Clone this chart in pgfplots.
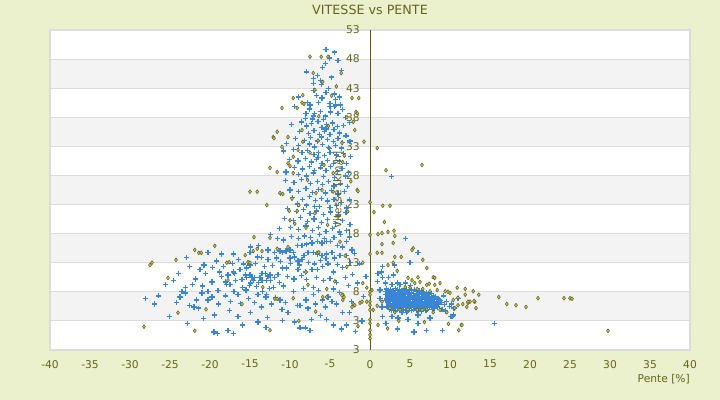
\documentclass[border=0pt]{standalone}
\usepackage{fontspec}
\setmainfont{DejaVu Sans}
\usepackage{pgfplots}
\pgfplotsset{compat=1.18}
\pgfplotsset{layers/mylayers/.define layer set={axis background,axis grid,axis ticks,axis lines,main,axis tick labels,axis descriptions,axis foreground}{}}
\definecolor{bg}{HTML}{EBF0CD}
\definecolor{band}{HTML}{F3F3F3}
\definecolor{gridc}{HTML}{DCDCDC}
\definecolor{txt}{HTML}{646420}
\definecolor{axc}{HTML}{5A5A00}
\definecolor{blu}{HTML}{3A86D6}
\definecolor{olv}{HTML}{62621A}
\definecolor{olvf}{HTML}{D6D67A}
\pgfplotstableread[row sep=\\]{
x y\\
-5.5 49.6\\-4.4 49.2\\-5.6 47.3\\-5.1 48.2\\-4.0 47.7\\-7.9 45.8\\-7.1 44.6\\-6.6 45.2\\-5.9 46.5\\-4.8 44.9\\-3.6 46.1\\-6.2 44.3\\
-7.1 43.8\\-6.1 43.6\\-7.0 42.6\\-5.5 42.2\\-4.4 42.0\\-3.8 41.5\\-4.3 41.0\\-5.0 40.4\\-7.8 40.6\\-7.5 40.1\\-6.4 40.6\\-5.0 39.9\\-4.4 39.9\\-4.3 40.1\\-3.7 40.1\\-6.2 39.0\\-7.6 39.4\\-8.0 38.7\\-6.9 38.6\\-5.6 38.2\\-4.0 38.6\\-3.4 39.3\\-3.1 37.9\\-8.1 37.8\\-7.1 38.2\\-6.0 41.3\\-5.2 43.0\\-6.7 41.8\\-8.9 41.5\\-4.9 38.9\\-5.8 37.6\\-9.4 39.9\\
-9.8 36.8\\-8.6 37.2\\-7.9 36.5\\-7.3 36.9\\-6.5 37.3\\-6.0 36.2\\-5.4 36.8\\-4.7 37.0\\-4.1 36.4\\-3.3 36.6\\-2.6 37.1\\-8.8 35.6\\-7.7 35.2\\-7.0 35.7\\-6.3 35.1\\-5.7 35.5\\-5.0 35.0\\-4.5 35.9\\-3.8 35.3\\-3.0 34.8\\-9.3 34.3\\-8.2 34.0\\-7.4 34.5\\-6.6 33.9\\-6.1 34.6\\-5.3 34.2\\-4.6 33.8\\-4.0 34.4\\-3.4 33.6\\-2.5 33.9\\-10.4 33.5\\-8.9 33.2\\-7.6 33.4\\-6.9 32.9\\-5.9 33.3\\-5.2 32.8\\-4.3 33.1\\-3.6 32.7\\-7.2 37.7\\-5.5 36.0\\
-10.8 32.2\\-9.6 32.5\\-8.5 31.9\\-7.8 32.3\\-7.0 31.6\\-6.4 32.0\\-5.7 31.4\\-5.0 31.9\\-4.2 31.5\\-3.3 31.8\\-2.4 31.2\\-10.1 30.8\\-9.0 30.5\\-8.1 30.9\\-7.3 30.3\\-6.7 30.7\\-6.0 30.1\\-5.3 30.6\\-4.6 30.0\\-3.8 30.4\\-2.9 30.1\\-9.4 29.4\\-8.4 29.1\\-7.6 29.6\\-6.9 28.9\\-6.2 29.3\\-5.5 28.8\\-4.9 29.5\\-4.1 28.7\\-3.5 29.2\\-2.7 28.5\\-10.5 28.6\\-8.9 28.2\\-7.9 27.9\\-7.1 28.4\\-5.8 27.8\\-4.4 27.6\\-3.1 27.9\\-6.5 31.1\\-5.1 32.6\\
-10.6 27.1\\-9.5 26.8\\-8.6 27.3\\-7.4 26.6\\-6.6 27.0\\-5.9 26.4\\-5.2 26.9\\-4.5 26.2\\-3.7 26.6\\-2.8 26.1\\-10.0 25.5\\-8.9 25.2\\-8.0 25.7\\-7.2 25.1\\-6.4 25.6\\-5.6 25.0\\-4.8 25.4\\-4.0 24.8\\-3.2 25.2\\-9.7 24.2\\-8.4 23.9\\-7.6 24.4\\-6.8 23.7\\-6.1 24.1\\-5.3 23.6\\-4.5 23.9\\-3.6 23.4\\-2.6 23.8\\-11.2 24.9\\-9.1 23.1\\-7.9 22.9\\-6.3 22.7\\-5.0 22.5\\-4.2 22.8\\-2.9 22.4\\
-10.3 22.3\\-9.2 21.8\\-8.3 22.1\\-7.5 21.5\\-6.7 21.9\\-5.8 21.3\\-4.9 21.7\\-3.9 21.2\\-3.0 21.6\\-10.7 20.6\\-9.6 20.3\\-8.7 20.8\\-7.8 20.1\\-7.0 20.5\\-6.1 19.9\\-5.3 20.4\\-4.3 19.8\\-3.4 20.2\\-2.5 19.6\\-9.9 19.1\\-8.9 18.7\\-8.0 19.3\\-7.2 18.5\\-6.4 19.0\\-5.5 18.4\\-4.7 18.9\\-3.8 18.3\\-2.9 18.6\\-11.3 18.9\\-6.9 22.6\\
-11.9 14.8\\-11.25 15.0\\-10.9 14.8\\-10.5 15.0\\-10.0 15.2\\-9.6 14.8\\-9.1 16.0\\-8.5 16.0\\-7.9 16.2\\-7.25 16.4\\-6.6 16.6\\-6.0 16.4\\-5.4 16.6\\-4.9 16.6\\-4.1 16.0\\-3.4 15.7\\-2.9 16.6\\-2.25 15.2\\-10.0 13.8\\-9.4 14.0\\-9.0 13.3\\-8.5 13.6\\-8.25 14.3\\-7.75 14.7\\-7.1 14.8\\-6.6 14.5\\-6.0 14.3\\-5.4 14.5\\-4.75 14.7\\-4.4 13.8\\-3.75 14.3\\-2.9 14.2\\-10.4 12.1\\-10.9 12.1\\-9.0 11.8\\-8.1 11.4\\-7.25 11.8\\-6.6 11.9\\-5.9 12.3\\-5.25 12.8\\-4.6 11.4\\-3.1 10.4\\-7.1 8.8\\-9.6 8.0\\-9.1 5.7\\-8.75 5.7\\-7.75 5.2\\-7.1 7.5\\-5.9 6.6\\-5.25 7.1\\-4.75 6.4\\-3.4 4.4\\-2.9 2.3\\-9.4 2.8\\-8.75 1.8\\-8.1 1.8\\-7.5 1.3\\-5.4 3.2\\-4.6 2.3\\-10.25 4.4\\-11.25 6.6\\-12.1 8.8\\-13.5 10.0\\-13.75 10.5\\-13.1 11.2\\-12.75 10.7\\-12.5 10.9\\-12.9 10.0\\-12.4 9.9\\-14.0 7.6\\-13.4 8.0\\-13.0 7.1\\-12.9 7.5\\-15.6 10.9\\-15.4 10.5\\-15.0 10.9\\-14.75 10.4\\-14.4 10.5\\-14.9 9.5\\-14.6 10.0\\-13.5 11.2\\-14.9 15.7\\-13.9 16.0\\-12.75 15.2\\-12.4 17.8\\-12.75 13.5\\-15.0 14.7\\-14.1 14.0\\-15.0 12.6\\-15.4 12.1\\-16.25 11.8\\-17.1 11.4\\-16.9 11.2\\-17.75 10.9\\-18.1 9.7\\-17.9 9.2\\-17.5 9.2\\-17.1 8.1\\-16.9 8.1\\-16.5 7.6\\-15.9 8.8\\-15.5 8.3\\-14.9 4.5\\-16.5 3.7\\-15.9 2.3\\-19.5 1.1\\-19.1 0.9\\-17.75 1.3\\-17.1 0.9\\-18.1 7.3\\-16.6 7.5\\-20.25 14.7\\-18.6 14.5\\-17.1 14.5\\-22.6 12.3\\-21.25 11.9\\-20.75 12.6\\-20.6 11.1\\-19.75 9.7\\-20.25 8.1\\-21.0 7.8\\-20.25 6.6\\-19.75 7.1\\-22.6 5.7\\-22.0 5.4\\-21.4 5.2\\-23.5 8.0\\-23.1 7.8\\-23.75 7.1\\-28.1 6.9\\-26.4 7.3\\-23.1 8.8\\-25.1 3.7\\-25.6 9.2\\
-11.6 17.2\\-10.8 16.9\\-9.8 17.5\\-8.9 17.1\\-8.2 17.6\\-7.4 17.3\\-6.3 17.8\\-5.7 17.1\\-4.5 17.4\\-3.7 17.9\\-2.6 17.3\\-11.2 13.2\\-9.9 12.9\\-8.8 12.6\\-7.7 13.1\\-6.9 12.8\\-6.2 13.4\\-5.5 13.7\\-4.1 12.7\\-3.4 12.2\\-2.4 13.0\\-11.5 11.0\\-10.3 10.6\\-9.5 10.2\\-8.6 10.8\\-7.9 10.1\\-6.7 10.5\\-5.8 9.9\\-5.0 10.3\\-4.2 9.6\\-2.7 9.1\\-10.8 9.0\\-8.3 8.6\\-6.4 8.2\\-4.6 8.5\\-3.8 7.9\\-11.8 7.0\\-10.6 6.2\\-8.0 6.6\\-6.8 5.9\\-5.6 5.4\\-4.2 5.9\\-2.3 6.4\\-1.6 9.5\\-2.2 11.0\\-1.0 3.0\\-2.6 4.4\\-0.8 7.2\\-1.8 1.2\\-0.5 10.6\\-1.3 12.8\\-1.9 14.6\\-6.2 3.9\\-7.3 3.2\\-3.6 1.6\\-10.9 3.1\\
-19.2 13.3\\-18.3 12.4\\-17.2 12.9\\-16.4 13.6\\-15.8 12.8\\-14.3 12.9\\-13.6 13.9\\-13.2 12.3\\-12.2 12.5\\-11.7 13.8\\-16.0 10.1\\-15.1 9.1\\-14.2 8.9\\-13.9 9.6\\-12.6 8.6\\-11.9 10.4\\-11.3 9.6\\-16.8 9.9\\-18.6 10.6\\-19.0 8.2\\-18.8 11.4\\-21.8 10.2\\-22.2 9.3\\-20.9 9.0\\-21.7 6.6\\-24.2 6.2\\-24.6 9.9\\-26.9 5.9\\-23.9 11.2\\-22.9 13.9\\-19.7 12.2\\-18.9 5.9\\-17.4 6.4\\-16.2 6.0\\-15.2 6.9\\-14.4 6.2\\-13.6 5.4\\-12.3 5.9\\-11.0 4.9\\-14.0 2.8\\-12.8 3.6\\-13.0 1.9\\-17.6 4.8\\-19.4 4.0\\-20.8 3.4\\-22.8 2.6\\
2.1 8.5\\2.6 8.3\\3.2 8.6\\3.7 8.4\\4.3 8.5\\4.9 8.3\\5.6 8.4\\6.2 8.2\\
1.9 8.0\\2.4 7.9\\2.9 8.1\\3.5 7.9\\4.0 8.0\\4.6 8.1\\5.2 7.9\\5.8 8.0\\6.5 7.9\\7.1 7.8\\
2.0 7.5\\2.5 7.4\\3.0 7.6\\3.4 7.5\\3.9 7.4\\4.4 7.6\\4.9 7.5\\5.4 7.4\\5.9 7.6\\6.4 7.5\\6.9 7.4\\7.4 7.5\\7.9 7.4\\
2.2 7.0\\2.7 7.1\\3.1 6.9\\3.6 7.0\\4.1 7.1\\4.6 6.9\\5.1 7.0\\5.6 7.1\\6.1 6.9\\6.6 7.0\\7.1 7.1\\7.6 6.9\\8.1 7.0\\8.5 6.9\\
2.0 6.5\\2.5 6.4\\2.9 6.6\\3.4 6.5\\3.8 6.4\\4.3 6.6\\4.8 6.5\\5.3 6.4\\5.8 6.6\\6.3 6.5\\6.8 6.4\\7.3 6.6\\7.8 6.5\\8.3 6.4\\8.8 6.5\\
2.3 6.0\\2.8 5.9\\3.2 6.1\\3.7 6.0\\4.2 5.9\\4.7 6.1\\5.2 6.0\\5.7 5.9\\6.2 6.1\\6.7 6.0\\7.2 5.9\\7.7 6.1\\8.2 6.0\\8.6 5.9\\
2.1 5.5\\2.6 5.4\\3.0 5.6\\3.5 5.5\\4.0 5.4\\4.5 5.6\\5.0 5.5\\5.5 5.4\\6.0 5.6\\6.5 5.5\\7.0 5.4\\7.5 5.6\\8.0 5.5\\8.4 5.4\\
2.4 5.0\\2.9 4.9\\3.4 5.1\\3.9 5.0\\4.4 4.9\\4.9 5.1\\5.4 5.0\\6.0 4.9\\6.6 5.1\\7.2 5.0\\7.8 4.9\\
2.35 8.25\\2.85 8.2\\3.45 8.3\\3.95 8.2\\4.55 8.25\\5.15 8.3\\5.85 8.2\\6.45 8.15\\
2.15 7.75\\2.65 7.7\\3.2 7.8\\3.75 7.75\\4.25 7.7\\4.85 7.8\\5.45 7.75\\6.1 7.7\\6.75 7.75\\7.3 7.65\\7.7 7.7\\
2.25 7.25\\2.75 7.3\\3.25 7.2\\3.7 7.25\\4.2 7.3\\4.7 7.2\\5.2 7.25\\5.7 7.3\\6.2 7.2\\6.7 7.25\\7.2 7.3\\7.7 7.2\\8.2 7.25\\
2.1 6.75\\2.45 6.8\\2.95 6.7\\3.4 6.75\\3.9 6.8\\4.4 6.7\\4.9 6.75\\5.4 6.8\\5.9 6.7\\6.4 6.75\\6.9 6.8\\7.4 6.7\\7.9 6.75\\8.35 6.8\\8.7 6.7\\
2.2 6.25\\2.6 6.3\\3.05 6.2\\3.5 6.25\\4.0 6.3\\4.5 6.2\\5.0 6.25\\5.5 6.3\\6.0 6.2\\6.5 6.25\\7.0 6.3\\7.5 6.2\\8.0 6.25\\8.45 6.3\\8.9 6.2\\
2.35 5.75\\2.8 5.8\\3.3 5.7\\3.8 5.75\\4.3 5.8\\4.8 5.7\\5.3 5.75\\5.8 5.8\\6.3 5.7\\6.8 5.75\\7.3 5.8\\7.8 5.7\\8.25 5.75\\
2.25 5.25\\2.75 5.3\\3.2 5.2\\3.7 5.25\\4.2 5.3\\4.7 5.2\\5.2 5.25\\5.7 5.3\\6.2 5.2\\6.8 5.25\\7.4 5.3\\8.0 5.2\\
2.7 4.75\\3.2 4.7\\3.7 4.8\\4.2 4.75\\4.7 4.7\\5.2 4.8\\5.8 4.75\\6.4 4.7\\7.0 4.8\\
1.0 11.2\\1.4 11.4\\1.6 10.5\\1.9 9.5\\2.3 10.4\\2.75 9.2\\1.6 12.3\\3.4 9.5\\3.75 9.2\\4.4 9.5\\1.25 8.3\\1.25 6.9\\1.5 5.4\\0.9 9.8\\2.9 10.9\\5.1 9.1\\
8.9 6.2\\9.3 5.8\\9.6 6.4\\9.9 5.5\\10.2 5.9\\10.5 5.2\\11.0 6.9\\10.1 3.8\\10.4 4.0\\9.0 5.0\\9.4 4.7\\9.2 7.3\\
3.4 1.6\\5.4 1.1\\7.1 1.3\\9.1 1.3\\4.75 3.3\\3.5 3.5\\2.75 3.7\\1.6 3.8\\7.5 3.5\\10.25 3.7\\6.0 4.0\\15.6 2.5\\6.0 2.5\\2.0 2.6\\4.0 4.4\\4.1 4.4\\4.6 4.4\\5.6 1.1\\
4.4 17.1\\6.0 14.8\\5.0 13.0\\2.7 27.8\\3.1 12.6\\
}\blue
\pgfplotstableread[row sep=\\]{
x y\\
-7.5 48.4\\-5.25 48.4\\-6.1 48.4\\-3.6 45.6\\-7.1 45.6\\-5.9 44.1\\-6.9 42.7\\-2.25 41.3\\-1.4 41.3\\-1.75 38.9\\-1.9 35.8\\-8.4 41.8\\-8.5 35.8\\-9.6 41.3\\-11.0 39.6\\-9.1 39.6\\-8.5 40.5\\-8.25 40.3\\-2.9 38.0\\-1.6 38.7\\-2.1 37.2\\-12.1 34.6\\-12.0 34.4\\-11.6 35.5\\-10.25 34.6\\-8.4 33.8\\-11.0 32.9\\-3.5 33.6\\-0.75 33.8\\-9.0 32.4\\-9.6 31.2\\-10.25 30.1\\-10.0 29.6\\-12.5 29.3\\-11.6 28.6\\-9.6 28.4\\-7.5 31.9\\-5.75 29.8\\-4.6 28.4\\-3.4 30.3\\-11.25 25.0\\-10.9 24.8\\-9.75 24.0\\-12.9 22.9\\-8.9 22.9\\-6.75 25.0\\-6.0 25.5\\-4.6 25.2\\-1.6 25.5\\-1.5 25.3\\-9.1 21.9\\-10.1 21.9\\-10.0 20.3\\-6.9 21.5\\-4.0 20.9\\-12.5 17.3\\-10.25 15.7\\-3.75 16.6\\-15.0 25.2\\-14.1 25.2\\-5.2 36.5\\-6.5 34.0\\-4.2 43.3\\-4.8 41.7\\-6.4 38.2\\-3.2 31.4\\-7.8 27.2\\-2.4 27.0\\-5.3 19.5\\-8.0 19.0\\-2.8 21.8\\
-21.9 15.2\\-21.4 14.7\\-24.25 13.5\\-27.25 13.0\\-27.5 12.6\\-25.25 10.4\\-28.25 2.0\\-21.9 1.3\\-21.1 14.7\\-19.4 15.9\\-14.5 17.4\\-17.9 13.0\\-17.6 13.1\\-15.6 14.3\\-15.25 13.1\\-15.0 13.0\\-14.6 15.0\\-14.1 15.4\\-13.5 15.0\\-17.75 10.0\\-13.4 8.8\\-11.9 6.8\\-11.6 6.8\\-12.5 1.4\\-11.6 15.4\\-9.6 6.9\\-7.75 9.2\\-8.0 11.4\\-6.6 14.7\\-6.4 14.8\\-9.4 19.7\\-5.4 8.5\\-5.9 7.1\\-5.4 7.1\\-3.4 7.5\\-3.4 6.6\\-2.1 5.9\\-2.25 5.4\\-3.1 14.2\\-2.9 12.3\\-3.5 7.4\\-3.25 7.1\\-1.25 6.1\\-1.0 6.3\\-0.4 6.3\\-1.9 5.7\\-0.9 9.5\\-0.4 8.7\\-0.9 13.0\\-4.4 9.8\\-6.8 4.6\\-8.9 3.0\\-1.5 2.1\\-20.5 5.0\\-24.0 4.4\\-16.0 5.9\\
0 8.0\\0 7.5\\0 6.3\\0 5.7\\0 4.9\\0 3.2\\0 2.6\\0 1.4\\0 0.6\\0 23.4\\0 17.8\\0 14.5\\0 0.0\\
1.0 17.9\\1.5 18.1\\2.25 18.3\\3.1 17.6\\1.5 16.2\\2.9 16.4\\5.4 15.5\\5.25 15.2\\0.9 14.7\\1.5 14.7\\3.1 14.0\\3.9 14.0\\6.6 13.5\\2.25 12.6\\2.9 13.0\\3.4 11.6\\6.0 10.5\\7.1 12.1\\7.9 10.5\\8.1 10.4\\4.75 10.4\\5.25 10.0\\5.6 9.5\\6.25 9.7\\7.1 9.2\\7.4 9.4\\8.1 9.2\\8.75 9.5\\10.9 8.7\\11.9 8.5\\12.9 8.1\\11.9 7.5\\12.5 6.3\\13.1 6.3\\11.4 2.3\\11.1 1.4\\1.0 2.3\\0.25 8.3\\1.5 6.3\\0.9 5.6\\0.4 4.9\\2.5 5.2\\3.1 4.5\\3.75 4.9\\4.75 5.0\\5.9 4.9\\6.5 4.9\\7.1 5.0\\7.9 4.5\\8.75 4.9\\9.6 4.5\\10.6 5.2\\10.4 6.6\\11.0 7.0\\4.4 8.8\\5.0 8.7\\5.9 8.5\\6.6 8.5\\7.5 8.1\\8.4 8.3\\9.4 8.1\\9.75 8.0\\10.0 7.8\\11.0 5.7\\11.6 5.9\\12.25 6.1\\13.0 6.4\\13.6 7.5\\16.1 7.1\\17.1 5.9\\18.25 5.7\\19.5 5.4\\21.0 6.9\\24.25 6.9\\25.0 6.9\\25.25 6.8\\29.75 1.3\\11.5 2.3\\12.25 6.3\\13.25 5.2\\12.1 5.4\\0.9 32.7\\6.5 29.8\\2.0 28.9\\3.6 3.0\\2.2 1.7\\6.8 2.8\\9.8 2.5\\1.8 20.0\\0.5 21.7\\1.6 22.8\\2.5 22.8\\3.0 18.5\\
}\olive
\begin{document}
\begin{tikzpicture}[x=1bp,y=1bp]
\begin{axis}[
  set layers=mylayers,
  at={(50bp,50bp)}, anchor=south west,
  scale only axis, width=640bp, height=320bp,
  xmin=-40, xmax=40, ymin=-2, ymax=53,
  axis x line=bottom, axis y line=center,
  hide obscured y ticks=false, hide obscured x ticks=false,
  x axis line style={draw=gridc, line width=1.5bp, -},
  y axis line style={draw=axc, line width=1bp, -},
  major tick length=0pt,
  xtick={-40,-35,...,40},
  xticklabels={-40,-35,-30,-25,-20,-15,-10,-5,0,5,10,15,20,25,30,35,40},
  ytick={-2,3,8,13,18,23,28,33,38,43,48,53},
  yticklabels={3,3,8,13,18,23,28,33,38,43,48,53},
  ymajorgrids, grid style={draw=gridc, line width=1bp},
  font=\fontsize{10.7bp}{12bp}\selectfont,
  tick label style={text=txt},
  xticklabel style={anchor=north, inner sep=0pt, yshift=-10bp},
  yticklabel style={anchor=east, inner sep=0pt, xshift=-10bp},
  xlabel={Pente [\%]},
  xlabel style={at={(rel axis cs:1,0)}, anchor=north east, inner sep=0pt, yshift=-24bp, text=txt},
  ylabel={Vitesse [km/h]},
  ylabel style={at={(rel axis cs:0.45,0.5)}, anchor=center, rotate=90, inner sep=0pt, text=txt},
  title={VITESSE vs PENTE},
  title style={at={(rel axis cs:0.5,1)}, anchor=center, yshift=14bp, inner sep=0pt, text=txt, font=\fontsize{12.7bp}{14bp}\selectfont},
  clip=false,
]
\begin{pgfonlayer}{axis background}
\fill[bg] ([shift={(-50bp,-50bp)}]rel axis cs:0,0) rectangle ([shift={(30bp,30bp)}]rel axis cs:1,1);
\fill[white] (rel axis cs:0,0) rectangle (rel axis cs:1,1);
\fill[band] (axis cs:-40,3) rectangle (axis cs:40,8);
\fill[band] (axis cs:-40,13) rectangle (axis cs:40,18);
\fill[band] (axis cs:-40,23) rectangle (axis cs:40,28);
\fill[band] (axis cs:-40,33) rectangle (axis cs:40,38);
\fill[band] (axis cs:-40,43) rectangle (axis cs:40,48);
\draw[gridc, line width=1.5bp] (rel axis cs:0,0) rectangle (rel axis cs:1,1);
\end{pgfonlayer}
\addplot[only marks, mark=+, mark size=2.6bp, blu, line width=1.25bp] table[x=x,y=y] {\blue};
\addplot[only marks, mark=diamond*, mark size=1.9bp, mark options={draw=olv, fill=olvf, line width=0.6bp}] table[x=x,y=y] {\olive};
\end{axis}
\end{tikzpicture}
\end{document}
